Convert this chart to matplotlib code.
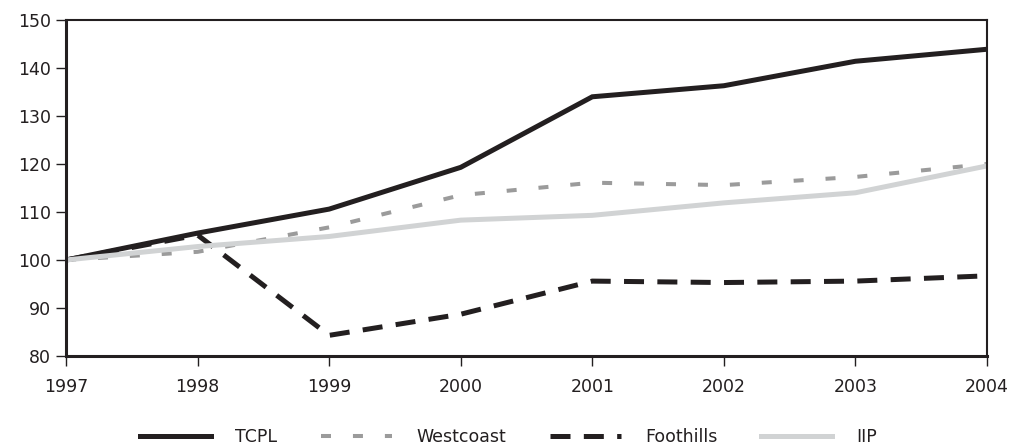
import matplotlib
matplotlib.use("Agg")
import matplotlib.pyplot as plt

years = [1997, 1998, 1999, 2000, 2001, 2002, 2003, 2004]
tcpl = [100, 105.6, 110.6, 119.3, 134.0, 136.3, 141.4, 143.9]
westcoast = [100, 101.7, 106.8, 113.5, 116.1, 115.6, 117.3, 120.0]
foothills = [100, 105.2, 84.3, 88.7, 95.6, 95.3, 95.6, 96.7]
iip = [100, 102.8, 104.9, 108.3, 109.3, 111.9, 114.0, 119.6]

yticks = [80, 90, 100, 110, 120, 130, 140, 150]

plt.rcParams['font.family'] = ['DejaVu Sans']
plt.rcParams['lines.scale_dashes'] = False

dark = '#231f20'
fig = plt.figure(figsize=(10.13, 4.48), dpi=100)
ax = fig.add_axes([0.0652, 0.2054, 0.9091, 0.7500])

ax.plot(years, tcpl, color=dark, lw=3.6, label='TCPL', solid_joinstyle='miter')
ax.plot(years, westcoast, color='#9b9b9b', lw=2.9, dashes=(7.2, 15.8), label='Westcoast')
ax.plot(years, foothills, color=dark, lw=3.6, dashes=(14.4, 9.6), label='Foothills')
ax.plot(years, iip, color='#d1d3d4', lw=3.6, label='IIP')

ax.set_xlim(1997, 2004)
ax.set_ylim(80, 150)
ax.set_xticks(years)
ax.set_xticklabels([str(y) for y in years])
ax.set_yticks(yticks)
ax.set_yticklabels([str(v) for v in yticks])

for side in ['left', 'bottom']:
    ax.spines[side].set_linewidth(2.2)
    ax.spines[side].set_color(dark)
for side in ['top', 'right']:
    ax.spines[side].set_linewidth(1.5)
    ax.spines[side].set_color(dark)

ax.tick_params(axis='y', direction='out', length=7, width=1, color=dark,
               labelsize=12.5, labelcolor=dark, pad=4)
ax.tick_params(axis='x', direction='out', length=7, width=1, color=dark,
               labelsize=12.5, labelcolor=dark, pad=9)

leg = fig.legend(loc='center', bbox_to_anchor=(0.502, 0.025), ncol=4, frameon=False,
                 fontsize=12.5, handlelength=4.1, handletextpad=1.4,
                 columnspacing=2.5, labelcolor=dark)

fig.savefig('out.png', dpi=100)
